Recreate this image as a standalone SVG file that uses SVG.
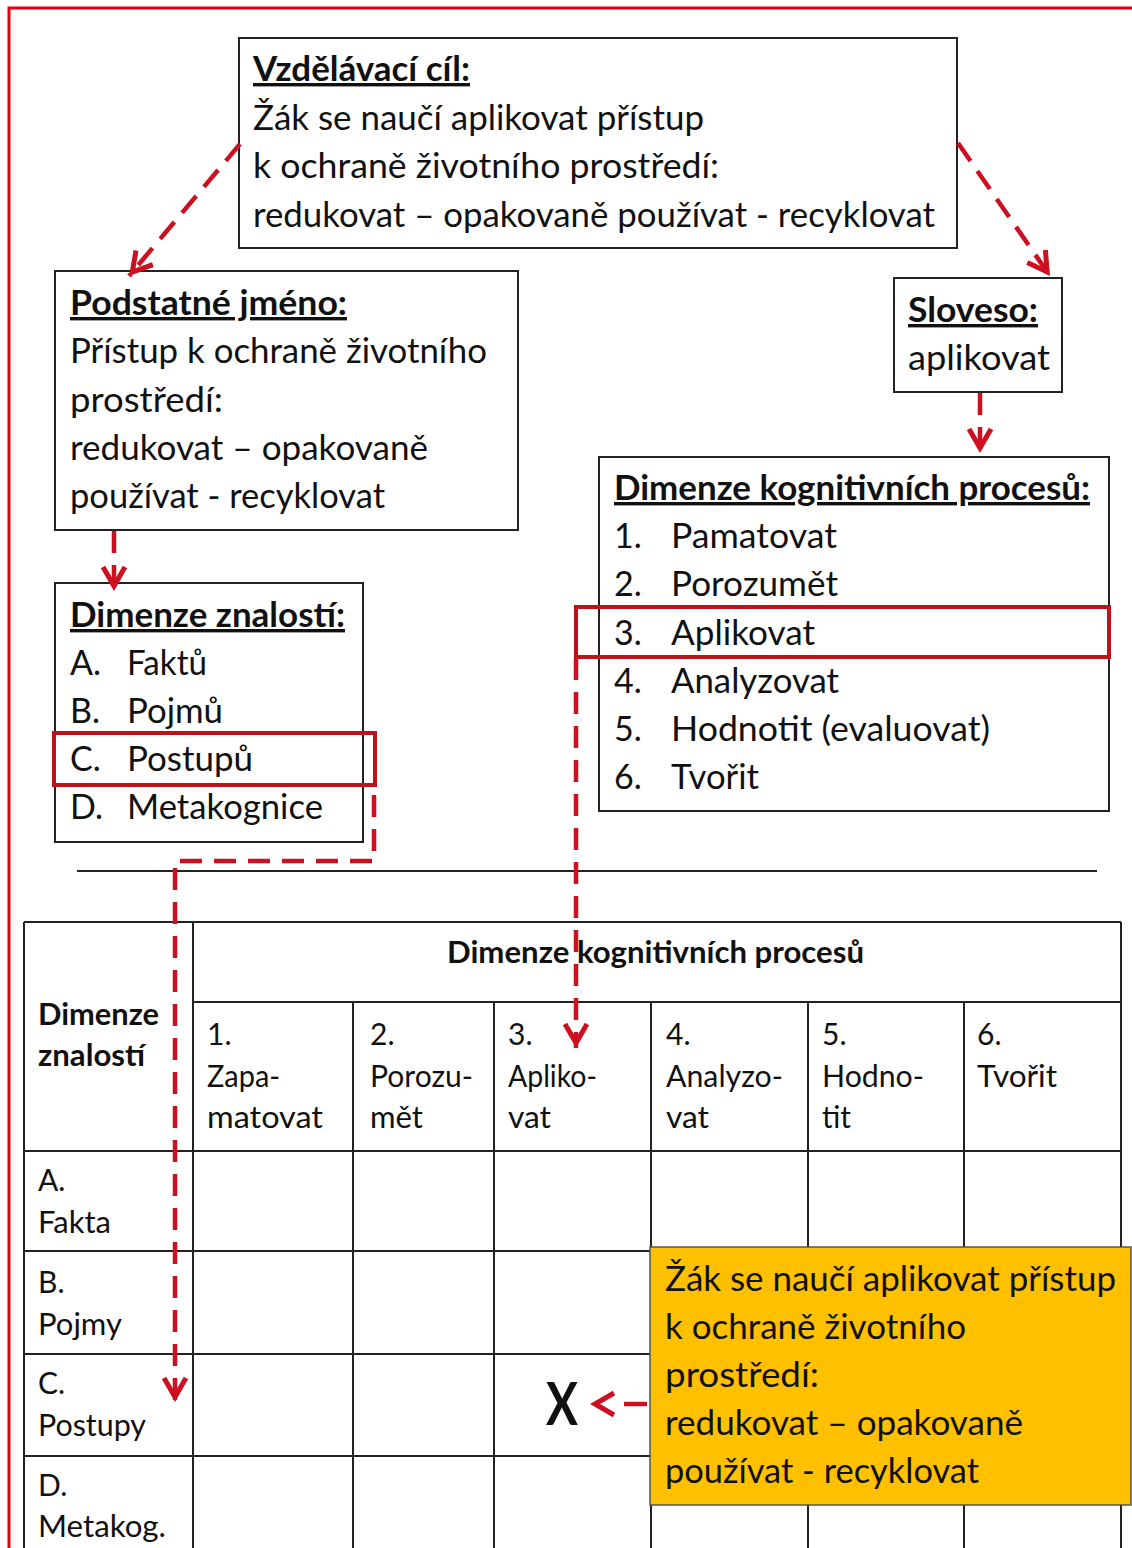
<svg xmlns="http://www.w3.org/2000/svg" width="1132" height="1548" viewBox="0 0 1132 1548">
<style>
.t { font-family: Lato, "Open Sans", "Liberation Sans", sans-serif; font-size: 34px; fill: #111; }
.s { font-size: 30px; }
.big { font-size: 60px; }
.b { font-weight: bold; }
.u { text-decoration: underline; }
.box { fill: #fff; stroke: #222; stroke-width: 2; }
.hl { fill: none; stroke: #c0101a; stroke-width: 4; }
.grid { stroke: #222; stroke-width: 2; fill: none; }
.dash { fill: none; stroke: #cc1020; stroke-width: 4.5; stroke-dasharray: 22 12; marker-end: url(#ah); }
</style>
<defs>
<marker id="ah" viewBox="-30 -15 34 30" refX="0" refY="0" markerWidth="34" markerHeight="30" markerUnits="userSpaceOnUse" orient="auto" overflow="visible">
<path d="M-24,-11 L-5,0 L-24,11" fill="none" stroke="#cc1020" stroke-width="5"/>
</marker>
</defs>
<rect width="1132" height="1548" fill="#fff"/>
<g id="frame">
<path d="M9,1548 L9,8 L1132,8" fill="none" stroke="#e00010" stroke-width="3"/>
</g>
<g id="separator">
<line x1="77" y1="871" x2="1097" y2="871" stroke="#222" stroke-width="2"/>
</g>
<g id="table">
<path class="grid" d="M24,922 H1121 M193,1002 H1121 M24,1151 H1121 M24,1251 H1121 M24,1354 H1121 M24,1456 H1121 M24,922 V1548 M193,922 V1548 M353,1002 V1548 M494,1002 V1548 M651,1002 V1548 M808,1002 V1548 M964,1002 V1548 M1121,922 V1548"/>
<text class="t s b" x="447" y="963" textLength="417" lengthAdjust="spacingAndGlyphs">Dimenze kognitivních procesů</text>
<text class="t s b" x="38" y="1025" textLength="121" lengthAdjust="spacingAndGlyphs">Dimenze</text>
<text class="t s b" x="38" y="1066" textLength="107" lengthAdjust="spacingAndGlyphs">znalostí</text>
<text class="t s" x="207" y="1045">1.</text>
<text class="t s" x="207" y="1087" textLength="73" lengthAdjust="spacingAndGlyphs">Zapa-</text>
<text class="t s" x="207" y="1128" textLength="116" lengthAdjust="spacingAndGlyphs">matovat</text>
<text class="t s" x="370" y="1045">2.</text>
<text class="t s" x="370" y="1087" textLength="103" lengthAdjust="spacingAndGlyphs">Porozu-</text>
<text class="t s" x="370" y="1128" textLength="53" lengthAdjust="spacingAndGlyphs">mět</text>
<text class="t s" x="508" y="1045">3.</text>
<text class="t s" x="508" y="1087" textLength="89" lengthAdjust="spacingAndGlyphs">Apliko-</text>
<text class="t s" x="508" y="1128" textLength="43" lengthAdjust="spacingAndGlyphs">vat</text>
<text class="t s" x="666" y="1045">4.</text>
<text class="t s" x="666" y="1087" textLength="117" lengthAdjust="spacingAndGlyphs">Analyzo-</text>
<text class="t s" x="666" y="1128" textLength="43" lengthAdjust="spacingAndGlyphs">vat</text>
<text class="t s" x="822" y="1045">5.</text>
<text class="t s" x="822" y="1087" textLength="102" lengthAdjust="spacingAndGlyphs">Hodno-</text>
<text class="t s" x="822" y="1128" textLength="29" lengthAdjust="spacingAndGlyphs">tit</text>
<text class="t s" x="977" y="1045">6.</text>
<text class="t s" x="977" y="1087" textLength="80" lengthAdjust="spacingAndGlyphs">Tvořit</text>
<text class="t s" x="38" y="1191">A.</text>
<text class="t s" x="38" y="1233" textLength="73" lengthAdjust="spacingAndGlyphs">Fakta</text>
<text class="t s" x="38" y="1293">B.</text>
<text class="t s" x="38" y="1335" textLength="84" lengthAdjust="spacingAndGlyphs">Pojmy</text>
<text class="t s" x="38" y="1394">C.</text>
<text class="t s" x="38" y="1436" textLength="108" lengthAdjust="spacingAndGlyphs">Postupy</text>
<text class="t s" x="38" y="1496">D.</text>
<text class="t s" x="38" y="1537" textLength="128" lengthAdjust="spacingAndGlyphs">Metakog.</text>
</g>
<g id="mark-x">
<text class="t b big" x="546" y="1425" textLength="32" lengthAdjust="spacingAndGlyphs">X</text>
</g>
<g id="goal-summary">
<rect x="650" y="1247" width="481" height="258" fill="#ffc000" stroke="#555" stroke-width="1.5"/>
<text class="t" x="665" y="1291" textLength="451" lengthAdjust="spacingAndGlyphs">Žák se naučí aplikovat přístup</text>
<text class="t" x="665" y="1339" textLength="301" lengthAdjust="spacingAndGlyphs">k ochraně životního</text>
<text class="t" x="665" y="1387" textLength="154" lengthAdjust="spacingAndGlyphs">prostředí:</text>
<text class="t" x="665" y="1435" textLength="358" lengthAdjust="spacingAndGlyphs">redukovat – opakovaně</text>
<text class="t" x="665" y="1483" textLength="314" lengthAdjust="spacingAndGlyphs">používat - recyklovat</text>
</g>
<g id="goal">
<rect class="box" x="239" y="38" width="718" height="210"/>
<text class="t b u" x="253" y="81" textLength="217" lengthAdjust="spacingAndGlyphs">Vzdělávací cíl:</text>
<text class="t" x="253" y="130" textLength="451" lengthAdjust="spacingAndGlyphs">Žák se naučí aplikovat přístup</text>
<text class="t" x="253" y="178" textLength="466" lengthAdjust="spacingAndGlyphs">k ochraně životního prostředí:</text>
<text class="t" x="253" y="227" textLength="682" lengthAdjust="spacingAndGlyphs">redukovat – opakovaně používat - recyklovat</text>
</g>
<g id="noun">
<rect class="box" x="55" y="271" width="463" height="259"/>
<text class="t b u" x="70" y="315" textLength="277" lengthAdjust="spacingAndGlyphs">Podstatné jméno:</text>
<text class="t" x="70" y="363" textLength="417" lengthAdjust="spacingAndGlyphs">Přístup k ochraně životního</text>
<text class="t" x="70" y="412" textLength="153" lengthAdjust="spacingAndGlyphs">prostředí:</text>
<text class="t" x="70" y="460" textLength="358" lengthAdjust="spacingAndGlyphs">redukovat – opakovaně</text>
<text class="t" x="70" y="508" textLength="315" lengthAdjust="spacingAndGlyphs">používat - recyklovat</text>
</g>
<g id="verb">
<rect class="box" x="894" y="278" width="168" height="114"/>
<text class="t b u" x="908" y="322" textLength="130" lengthAdjust="spacingAndGlyphs">Sloveso:</text>
<text class="t" x="908" y="370" textLength="142" lengthAdjust="spacingAndGlyphs">aplikovat</text>
</g>
<g id="knowledge">
<rect class="box" x="55" y="583" width="308" height="259"/>
<text class="t b u" x="70" y="627" textLength="275" lengthAdjust="spacingAndGlyphs">Dimenze znalostí:</text>
<text class="t" x="70" y="675">A.</text>
<text class="t" x="127" y="675" textLength="80" lengthAdjust="spacingAndGlyphs">Faktů</text>
<text class="t" x="70" y="723">B.</text>
<text class="t" x="127" y="723" textLength="96" lengthAdjust="spacingAndGlyphs">Pojmů</text>
<text class="t" x="70" y="771">C.</text>
<text class="t" x="127" y="771" textLength="126" lengthAdjust="spacingAndGlyphs">Postupů</text>
<text class="t" x="70" y="819">D.</text>
<text class="t" x="127" y="819" textLength="196" lengthAdjust="spacingAndGlyphs">Metakognice</text>
<rect class="hl" x="54" y="733" width="321" height="52"/>
</g>
<g id="cognitive">
<rect class="box" x="599" y="457" width="510" height="354"/>
<text class="t b u" x="614" y="500" textLength="476" lengthAdjust="spacingAndGlyphs">Dimenze kognitivních procesů:</text>
<text class="t" x="614" y="548">1.</text>
<text class="t" x="671" y="548" textLength="166" lengthAdjust="spacingAndGlyphs">Pamatovat</text>
<text class="t" x="614" y="596">2.</text>
<text class="t" x="671" y="596" textLength="167" lengthAdjust="spacingAndGlyphs">Porozumět</text>
<text class="t" x="614" y="645">3.</text>
<text class="t" x="671" y="645" textLength="144" lengthAdjust="spacingAndGlyphs">Aplikovat</text>
<text class="t" x="614" y="693">4.</text>
<text class="t" x="671" y="693" textLength="168" lengthAdjust="spacingAndGlyphs">Analyzovat</text>
<text class="t" x="614" y="741">5.</text>
<text class="t" x="671" y="741" textLength="319" lengthAdjust="spacingAndGlyphs">Hodnotit (evaluovat)</text>
<text class="t" x="614" y="789">6.</text>
<text class="t" x="671" y="789" textLength="88" lengthAdjust="spacingAndGlyphs">Tvořit</text>
<rect class="hl" x="576" y="607" width="533" height="50"/>
</g>
<g id="connectors">
<path class="dash" d="M240,144 L129,276"/>
<path class="dash" d="M958,143 L1050,276"/>
<path class="dash" d="M114,531 L114,591"/>
<path class="dash" d="M980,393 L980,453"/>
<path class="dash" d="M374,795 L374,861 L175,861 L175,1402"/>
<path class="dash" d="M576,658 L576,1048"/>
<path class="dash" style="stroke-dasharray: 23 40" d="M647,1404 L590,1404"/>
</g>
</svg>
